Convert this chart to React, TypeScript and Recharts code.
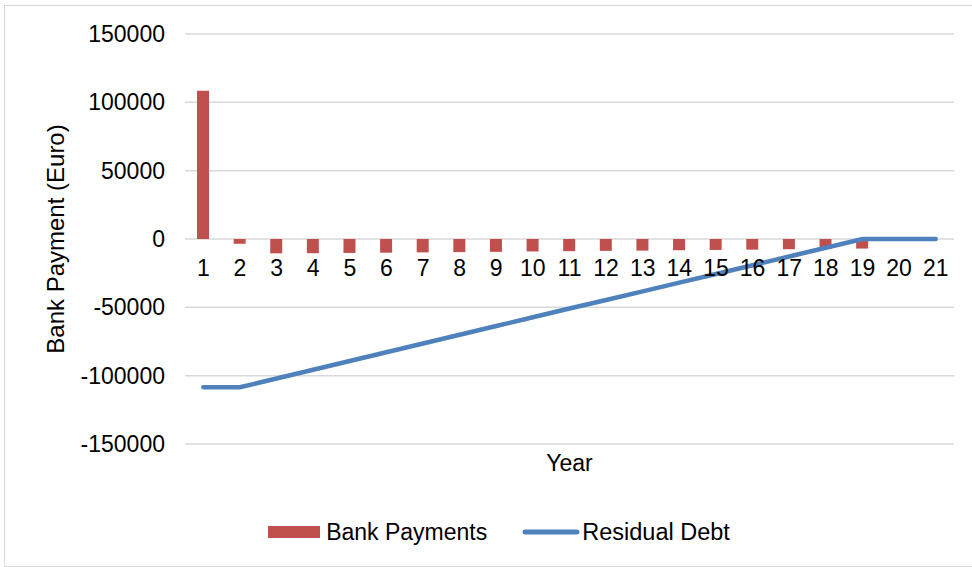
import React from "react";
import {
  ComposedChart,
  Bar,
  Line,
  XAxis,
  YAxis,
  CartesianGrid,
  Legend,
} from "recharts";

const years = [
  "1", "2", "3", "4", "5", "6", "7", "8", "9", "10", "11",
  "12", "13", "14", "15", "16", "17", "18", "19", "20", "21",
];

const bankPayments = [
  108500, -3500, -10500, -10400, -10200, -10000, -9800, -9600, -9400, -9100,
  -8900, -8700, -8500, -8200, -8000, -7800, -7500, -7200, -7000, 0, 0,
];

const residualDebt = [
  -108500, -108500, -102100, -95700, -89300, -82900, -76500, -70100, -63700,
  -57300, -50900, -44600, -38300, -31900, -25600, -19200, -12800, -6400, 0, 0, 0,
];

const yTicks = [-150000, -100000, -50000, 0, 50000, 100000, 150000];

const data = years.map((year, i) => ({
  year,
  bank: bankPayments[i],
  debt: residualDebt[i],
}));

const RED = "#c0504d";
const BLUE = "#4f81bd";
const FONT = "'Liberation Sans', Arial, sans-serif";
const FS = 23;

// x ticks sit just under the zero line instead of the plot bottom
const TICK_SHIFT = -176;

function YearTick(props: any) {
  const { x, y, payload } = props;
  return (
    <text
      x={x}
      y={y + TICK_SHIFT}
      textAnchor="middle"
      dominantBaseline="central"
      fontSize={FS}
      fontFamily={FONT}
      fill="#000"
    >
      {payload.value}
    </text>
  );
}

function LegendContent() {
  return (
    <div
      style={{
        display: "flex",
        justifyContent: "center",
        alignItems: "center",
        height: 30,
        paddingLeft: 44,
        fontFamily: FONT,
        fontSize: FS,
        color: "#000",
      }}
    >
      <span style={{ display: "inline-block", width: 52, height: 12, background: RED, marginRight: 6 }} />
      <span style={{ marginRight: 35 }}>Bank Payments</span>
      <svg width={58} height={10} style={{ marginRight: 2 }}>
        <line x1={3} y1={5} x2={55} y2={5} stroke={BLUE} strokeWidth={5} strokeLinecap="round" />
      </svg>
      <span style={{ fontSize: 23.5 }}>Residual Debt</span>
    </div>
  );
}

export default function App() {
  return (
    <div style={{ position: "absolute", left: 0, top: 0, width: 972, height: 567, background: "#fff" }}>
      <div
        style={{
          position: "absolute",
          left: 4,
          top: 5,
          width: 980,
          height: 560,
          border: "1px solid #d9d9d9",
        }}
      />
      <ComposedChart
        width={972}
        height={567}
        data={data}
        margin={{ top: 34, right: 18, left: 0, bottom: 20 }}
        style={{ position: "absolute", left: 0, top: 0 }}
      >
        <CartesianGrid vertical={false} stroke="#d9d9d9" strokeWidth={1.5} />
        <XAxis
          dataKey="year"
          height={73}
          axisLine={false}
          tickLine={false}
          tickSize={0}
          tickMargin={0}
          interval={0}
          tick={<YearTick />}
          label={{
            value: "Year",
            position: "insideTop",
            offset: 11,
            fontSize: FS,
            fontFamily: FONT,
            fill: "#000",
          }}
        />
        <YAxis
          width={185}
          domain={[-150000, 150000]}
          ticks={yTicks}
          axisLine={false}
          tickLine={false}
          tickMargin={14}
          tick={{ fontSize: FS, fontFamily: FONT, fill: "#000" }}
          label={{
            value: "Bank Payment (Euro)",
            angle: -90,
            position: "insideLeft",
            offset: 55,
            fontSize: 24,
            fontFamily: FONT,
            fill: "#000",
            style: { textAnchor: "middle" },
          }}
        />
        <Legend verticalAlign="bottom" height={30} content={<LegendContent />} />
        <Bar dataKey="bank" name="Bank Payments" fill={RED} barSize={12} isAnimationActive={false} />
        <Line
          dataKey="debt"
          name="Residual Debt"
          type="linear"
          stroke={BLUE}
          strokeWidth={4.5}
          strokeLinecap="round"
          dot={false}
          activeDot={false}
          isAnimationActive={false}
        />
      </ComposedChart>
    </div>
  );
}
